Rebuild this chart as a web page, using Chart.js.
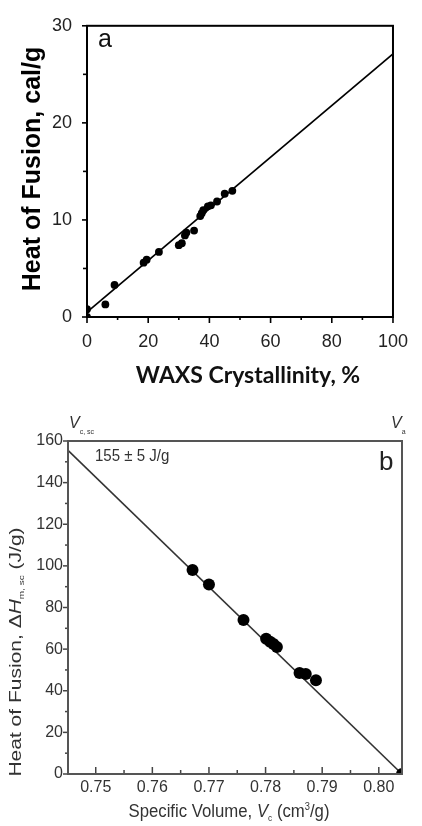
<!DOCTYPE html>
<html><head><meta charset="utf-8">
<script src="https://cdn.jsdelivr.net/npm/chart.js@4.4.1/dist/chart.umd.min.js"></script>
<style>
html,body{margin:0;padding:0;background:#fff;width:422px;height:826px;overflow:hidden}
#ca{position:absolute;left:0;top:0;width:422px;height:400px}
#cb{position:absolute;left:0;top:400px;width:422px;height:426px}
</style></head>
<body>
<canvas id="ca" width="422" height="400"></canvas>
<canvas id="cb" width="422" height="426"></canvas>
<script>
// ---- Panel (a) data ----
const crystA = [0, 0, 6, 9, 18.5, 19.5, 23.5, 30, 31, 32, 32.5, 35, 37, 37.5, 38, 39.5, 40.5, 42.5, 45, 47.5];
const heatA  = [0, 0.8, 1.3, 3.3, 5.6, 5.9, 6.7, 7.4, 7.6, 8.4, 8.7, 8.9, 10.4, 10.7, 11.0, 11.4, 11.5, 11.9, 12.7, 13.0];
const fitXA  = [0, 100];
const fitYA  = [0.5, 27.1];
const xMajorA = [0, 20, 40, 60, 80, 100];
const xMinorA = [10, 30, 50, 70, 90];
const yMajorA = [0, 10, 20, 30];
const yMinorA = [5, 15, 25];

// ---- Panel (b) data ----
const volB  = [0.7671, 0.7700, 0.7761, 0.7801, 0.7808, 0.7814, 0.7820, 0.7860, 0.7871, 0.7889, 0.8041];
const heatB = [98, 91, 74, 65, 63.5, 62.5, 61, 48.5, 48, 45, 0];
const fitXB = [0.7451, 0.8041];
const fitYB = [155.5, 0];
const xMajorB = [0.75, 0.76, 0.77, 0.78, 0.79, 0.80];
const xMinorB = [0.755, 0.765, 0.775, 0.785, 0.795];
const yMajorB = [0, 20, 40, 60, 80, 100, 120, 140, 160];
const yMinorB = [10, 30, 50, 70, 90, 110, 130, 150];

const pts = (xs, ys) => xs.map((x, i) => ({x, y: ys[i]}));

const richPlugin = {
  id: 'rich',
  afterDraw(chart, args, opts) {
    const ctx = chart.ctx;
    (opts.items || []).forEach(it => {
      ctx.save();
      ctx.fillStyle = it.color || '#000';
      ctx.textBaseline = 'alphabetic';
      ctx.textAlign = 'left';
      let w = 0;
      it.segs.forEach(s => { ctx.font = s.font; w += ctx.measureText(s.t).width; });
      ctx.translate(it.x, it.y);
      if (it.rot) ctx.rotate(-Math.PI / 2);
      ctx.scale(it.sa || 1, it.sp || 1);
      let cx = it.align === 'center' ? -w / 2 : 0;
      it.segs.forEach(s => { ctx.font = s.font; ctx.fillText(s.t, cx, s.dy || 0); cx += ctx.measureText(s.t).width; });
      ctx.restore();
    });
  }
};

const marksPlugin = {
  id: 'marks',
  afterDraw(chart, args, opts) {
    const {ctx, chartArea: a, scales} = chart;
    ctx.save();
    ctx.strokeStyle = opts.color;
    ctx.lineWidth = opts.tickWidth;
    opts.sets.forEach(set => {
      const sc = scales[set.axis];
      set.values.forEach(v => {
        const p = sc.getPixelForValue(v);
        ctx.beginPath();
        if (set.axis === 'y') {
          ctx.moveTo(a.left, p); ctx.lineTo(a.left + (set.out ? -set.len : set.len), p);
        } else {
          ctx.moveTo(p, a.bottom); ctx.lineTo(p, a.bottom + (set.out ? set.len : -set.len));
        }
        ctx.stroke();
      });
    });
    ctx.lineWidth = opts.boxWidth;
    ctx.strokeStyle = opts.boxColor;
    ctx.strokeRect(a.left, a.top, a.right - a.left, a.bottom - a.top);
    ctx.restore();
  }
};

// ---------------- Chart (a) ----------------
new Chart(document.getElementById('ca'), {
  type: 'scatter',
  data: {
    datasets: [
      {data: pts(crystA, heatA), pointRadius: 3.9, pointBackgroundColor: '#000', pointBorderWidth: 0, showLine: false},
      {data: pts(fitXA, fitYA), showLine: true, pointRadius: 0, borderColor: '#000', borderWidth: 1.6}
    ]
  },
  options: {
    responsive: false, animation: false, devicePixelRatio: 1,
    layout: {padding: {top: 17, right: 17, left: 0, bottom: 0}},
    scales: {
      x: {
        type: 'linear', min: 0, max: 100,
        grid: {display: false, drawTicks: false}, border: {display: false},
        afterBuildTicks: s => { s.ticks = xMajorA.map(v => ({value: v})); },
        afterFit: s => { s.height = 83; },
        ticks: {padding: 14, color: '#222', font: {family: 'Liberation Sans', size: 18}, maxRotation: 0, autoSkip: false}
      },
      y: {
        type: 'linear', min: 0, max: 30,
        grid: {display: false, drawTicks: false}, border: {display: false},
        afterBuildTicks: s => { s.ticks = yMajorA.map(v => ({value: v})); },
        afterFit: s => { s.width = 87; },
        ticks: {padding: 15, color: '#222', font: {family: 'Liberation Sans', size: 18}, autoSkip: false}
      }
    },
    plugins: {
      legend: {display: false}, tooltip: {enabled: false},
      marks: {
        color: '#000', tickWidth: 1.6, boxColor: '#000', boxWidth: 2,
        sets: [
          {axis: 'y', values: yMajorA, len: 5, out: true},
          {axis: 'y', values: yMinorA, len: 4, out: true},
          {axis: 'x', values: xMajorA, len: 6, out: true},
          {axis: 'x', values: xMinorA, len: 3, out: true}
        ]
      },
      rich: {
        items: [
          {x: 40, y: 169, rot: true, align: 'center', color: '#000',
           segs: [{t: 'Heat of Fusion, cal/g', font: 'bold 25px "Liberation Sans"'}]},
          {x: 248, y: 383, align: 'center', color: '#111',
           segs: [{t: 'WAXS Crystallinity, %', font: 'bold 23px Lato'}]},
          {x: 98, y: 47, color: '#111',
           segs: [{t: 'a', font: '25px "Liberation Sans"'}]}
        ]
      }
    }
  },
  plugins: [marksPlugin, richPlugin]
});

// ---------------- Chart (b) ----------------
new Chart(document.getElementById('cb'), {
  type: 'scatter',
  data: {
    datasets: [
      {data: pts(volB, heatB), pointRadius: 6, pointBackgroundColor: '#000', pointBorderWidth: 0, showLine: false},
      {data: pts(fitXB, fitYB), showLine: true, pointRadius: 0, borderColor: '#333', borderWidth: 1.6}
    ]
  },
  options: {
    responsive: false, animation: false, devicePixelRatio: 1,
    layout: {padding: {top: 41, right: 20, left: 0, bottom: 0}},
    scales: {
      x: {
        type: 'linear', min: 0.7451, max: 0.8041,
        grid: {display: false, drawTicks: false}, border: {display: false},
        afterBuildTicks: s => { s.ticks = xMajorB.map(v => ({value: v})); },
        afterFit: s => { s.height = 52; },
        ticks: {padding: 4, color: '#333', font: {family: 'Liberation Sans', size: 16}, maxRotation: 0, autoSkip: false,
                callback: v => Number(v).toFixed(2)}
      },
      y: {
        type: 'linear', min: 0, max: 160,
        grid: {display: false, drawTicks: false}, border: {display: false},
        afterBuildTicks: s => { s.ticks = yMajorB.map(v => ({value: v})); },
        afterFit: s => { s.width = 68; },
        ticks: {padding: 5, color: '#333', font: {family: 'Liberation Sans', size: 16}, autoSkip: false}
      }
    },
    plugins: {
      legend: {display: false}, tooltip: {enabled: false},
      marks: {
        color: '#444', tickWidth: 1.5, boxColor: '#555', boxWidth: 2,
        sets: [
          {axis: 'y', values: yMajorB, len: 5, out: true},
          {axis: 'y', values: yMinorB, len: 3, out: true},
          {axis: 'x', values: xMajorB, len: 7, out: false},
          {axis: 'x', values: xMinorB, len: 4, out: false}
        ]
      },
      rich: {
        items: [
          {x: 21, y: 252, rot: true, align: 'center', color: '#333', sp: 0.75,
           segs: [
             {t: 'Heat of Fusion, \u0394', font: '21px "Liberation Sans"'},
             {t: 'H', font: 'italic 21px "Liberation Sans"'},
             {t: 'm, sc', font: '10px "Liberation Sans"', dy: 4},
             {t: ' (J/g)', font: '21px "Liberation Sans"'}
           ]},
          {x: 229, y: 417, align: 'center', color: '#333', sa: 0.93,
           segs: [
             {t: 'Specific Volume, ', font: '18px "Liberation Sans"'},
             {t: 'V', font: 'italic 18px "Liberation Sans"'},
             {t: 'c', font: '9px "Liberation Sans"', dy: 4},
             {t: ' (cm', font: '18px "Liberation Sans"'},
             {t: '3', font: '10px "Liberation Sans"', dy: -7},
             {t: '/g)', font: '18px "Liberation Sans"'}
           ]},
          {x: 95, y: 61, color: '#333', sa: 0.94,
           segs: [{t: '155 \u00b1 5 J/g', font: '16px "Liberation Sans"'}]},
          {x: 379, y: 70, color: '#222',
           segs: [{t: 'b', font: '26px "Liberation Sans"'}]},
          {x: 69, y: 28, color: '#333',
           segs: [{t: 'V', font: 'italic 16px "Liberation Sans"'}, {t: 'c, sc', font: '7px "Liberation Sans"', dy: 6}]},
          {x: 391, y: 28, color: '#333',
           segs: [{t: 'V', font: 'italic 16px "Liberation Sans"'}, {t: 'a', font: '7px "Liberation Sans"', dy: 6}]}
        ]
      }
    }
  },
  plugins: [marksPlugin, richPlugin]
});
</script>
</body></html>
